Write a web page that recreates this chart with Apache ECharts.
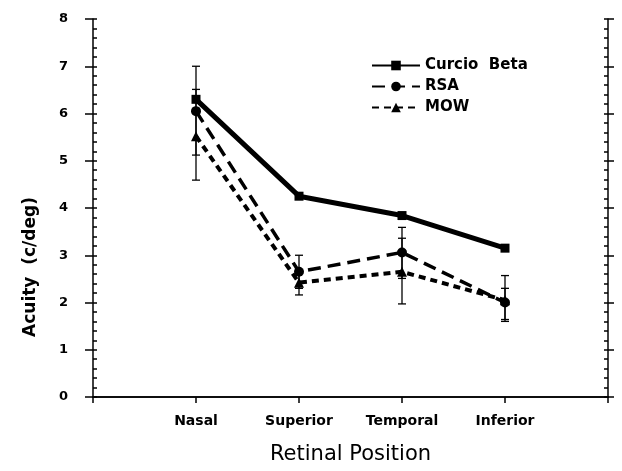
<!DOCTYPE html>
<html>
<head>
<meta charset="utf-8">
<script src="https://cdn.jsdelivr.net/npm/echarts@6/dist/echarts.min.js"></script>
<style>html,body{margin:0;padding:0;background:#fff;}#c{width:622px;height:471px;}</style>
</head>
<body>
<div id="c"></div>
<script>
const categories = ['Nasal', 'Superior', 'Temporal', 'Inferior'];
const curcioBeta = [6.3, 4.25, 3.84, 3.15];
const rsa = [6.05, 2.65, 3.06, 2.0];
const rsaLow = [5.12, 2.3, 2.51, 1.6];
const rsaHigh = [7.0, 3.0, 3.59, 2.57];
const mow = [5.52, 2.42, 2.65, 2.05];
const mowLow = [4.59, 2.16, 1.97, 1.64];
const mowHigh = [6.51, 2.65, 3.36, 2.3];
const yTicks = [0, 1, 2, 3, 4, 5, 6, 7, 8];

const pos = categories.map((c, i) => i + 1);
const toXY = arr => arr.map((v, i) => [pos[i], v]);
const errData = [];
pos.forEach((p, i) => { errData.push([p, rsaLow[i], rsaHigh[i]]); errData.push([p, mowLow[i], mowHigh[i]]); });

const FONT = 'DejaVu Sans';
const chart = echarts.init(document.getElementById('c'));

const baseY = {
  type: 'value', min: yTicks[0], max: yTicks[yTicks.length - 1], interval: 1,
  splitLine: { show: false }
};
// inner ticks: an invisible axis shifted 4px into the plot whose outward ticks reach the frame
const innerTicks = {
  offset: -4,
  axisLine: { show: false },
  axisTick: { show: true, inside: false, length: 4, lineStyle: { color: '#000', width: 1.5 } },
  minorTick: { show: true, splitNumber: 5, length: 4, lineStyle: { color: '#000', width: 1.5 } },
  axisLabel: { show: false }
};

chart.setOption({
  animation: false,
  backgroundColor: '#fff',
  grid: { left: 93, right: 14, top: 19, bottom: 74, containLabel: false },
  legend: {
    data: ['Curcio  Beta', 'RSA', 'MOW'],
    orient: 'vertical', left: 366, top: 52,
    itemWidth: 48, itemHeight: 12, itemGap: 4,
    textStyle: { fontFamily: FONT, fontWeight: 'bold', fontSize: 15, color: '#000', lineHeight: 17 }
  },
  xAxis: [{
    type: 'value', min: 0, max: 5, interval: 1, position: 'bottom',
    axisLine: { show: true, lineStyle: { color: '#000', width: 1.5 } },
    axisTick: { show: true, length: 6, lineStyle: { color: '#000', width: 1.5 } },
    splitLine: { show: false },
    axisLabel: {
      margin: 17, fontFamily: FONT, fontWeight: 'bold', fontSize: 14, color: '#000',
      formatter: v => (v >= 1 && v <= categories.length && Number.isInteger(v)) ? categories[v - 1] : ''
    },
    name: 'Retinal Position', nameLocation: 'middle', nameGap: 47,
    nameTextStyle: { fontFamily: FONT, fontSize: 21, color: '#000' }
  }, {
    type: 'value', min: 0, max: 5, interval: 1, position: 'top',
    axisLine: { show: true, lineStyle: { color: '#000', width: 1.5 } },
    axisTick: { show: false }, axisLabel: { show: false }, splitLine: { show: false }
  }],
  yAxis: [
    Object.assign({}, baseY, {
      position: 'left',
      axisLine: { show: true, lineStyle: { color: '#000', width: 1.5 } },
      axisTick: { show: true, length: 8, lineStyle: { color: '#000', width: 1.5 } },
      minorTick: { show: false },
      axisLabel: { margin: 25, fontFamily: FONT, fontWeight: 'bold', fontSize: 13, color: '#000' }
    }),
    Object.assign({}, baseY, { position: 'left' }, innerTicks),
    Object.assign({}, baseY, {
      position: 'right',
      axisLine: { show: true, lineStyle: { color: '#000', width: 1.5 } },
      axisTick: { show: true, length: 6, lineStyle: { color: '#000', width: 1.5 } },
      minorTick: { show: false },
      axisLabel: { show: false }
    }),
    Object.assign({}, baseY, { position: 'right' }, innerTicks)
  ],
  graphic: [{
    type: 'text',
    x: 31, y: 267,
    rotation: Math.PI / 2,
    style: { text: 'Acuity  (c/deg)', font: 'bold 17px "DejaVu Sans"', fill: '#000', align: 'center', verticalAlign: 'middle' }
  }],
  series: [
    {
      type: 'custom', name: 'err', xAxisIndex: 0, yAxisIndex: 0, z: 1,
      data: errData,
      encode: { x: 0, y: [1, 2] },
      renderItem: function (params, api) {
        const x = api.value(0);
        const lo = api.coord([x, api.value(1)]);
        const hi = api.coord([x, api.value(2)]);
        const w = 4;
        const st = { stroke: '#000', lineWidth: 1.3 };
        return {
          type: 'group', children: [
            { type: 'line', shape: { x1: lo[0], y1: lo[1], x2: hi[0], y2: hi[1] }, style: st },
            { type: 'line', shape: { x1: lo[0] - w, y1: lo[1], x2: lo[0] + w, y2: lo[1] }, style: st },
            { type: 'line', shape: { x1: hi[0] - w, y1: hi[1], x2: hi[0] + w, y2: hi[1] }, style: st }
          ]
        };
      }
    },
    {
      type: 'line', name: 'Curcio  Beta', data: toXY(curcioBeta), z: 4,
      symbol: 'rect', symbolSize: 9,
      lineStyle: { color: '#000', width: 5 }, itemStyle: { color: '#000' }
    },
    {
      type: 'line', name: 'RSA', data: toXY(rsa), z: 3,
      symbol: 'circle', symbolSize: 10,
      lineStyle: { color: '#000', width: 3.5, type: [13, 7] }, itemStyle: { color: '#000' }
    },
    {
      type: 'line', name: 'MOW', data: toXY(mow), z: 3,
      symbol: 'triangle', symbolSize: 10,
      lineStyle: { color: '#000', width: 4, type: [7, 5] }, itemStyle: { color: '#000' }
    }
  ]
});
</script>
</body>
</html>
